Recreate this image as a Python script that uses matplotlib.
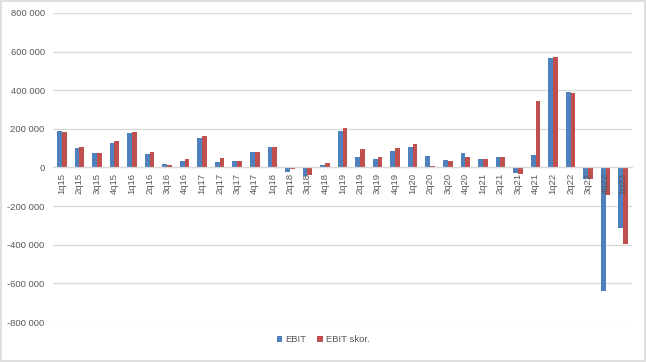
import matplotlib
matplotlib.use("Agg")
import matplotlib.pyplot as plt
import matplotlib.ticker as mticker
from matplotlib.patches import Rectangle
import numpy as np

# ── Data ──────────────────────────────────────────────────────────────────
quarters = [
    "1q15", "2q15", "3q15", "4q15", "1q16", "2q16", "3q16", "4q16",
    "1q17", "2q17", "3q17", "4q17", "1q18", "2q18", "3q18", "4q18",
    "1q19", "2q19", "3q19", "4q19", "1q20", "2q20", "3q20", "4q20",
    "1q21", "2q21", "3q21", "4q21", "1q22", "2q22", "3q22", "4q22",
    "1q23",
]
ebit = [
    191000, 102000, 75000, 128000, 181000, 70000, 18000, 33000,
    154000, 28000, 33000, 81000, 107000, -25000, -45000, 12000,
    191000, 54000, 44000, 86000, 107000, 60000, 39000, 75000,
    44000, 54000, -30000, 65000, 565000, 393000, -62000, -642000,
    -315000,
]
ebit_skor = [
    186000, 107000, 75000, 139000, 186000, 81000, 12000, 44000,
    165000, 49000, 33000, 81000, 107000, -9000, -38000, 23000,
    202000, 96000, 54000, 102000, 123000, 7000, 33000, 54000,
    44000, 54000, -32000, 344000, 571000, 388000, -60000, -140000,
    -398000,
]
series_names = ["EBIT", "EBIT skor."]
y_ticks = np.arange(-800000, 800001, 200000)

# ── Style ─────────────────────────────────────────────────────────────────
plt.rcParams["font.family"] = ["Liberation Sans", "DejaVu Sans"]
TXT = "#595959"
GRID = "#D9D9D9"
colors = ["#4F81BD", "#C0504D"]

fig = plt.figure(figsize=(6.46, 3.62), dpi=100)
ax = fig.add_axes([53 / 646, 1 - 322 / 362, (632 - 53) / 646, (322 - 13) / 362])

# gridlines behind bars, tick labels on top (like Excel)
for yv in y_ticks:
    ax.axhline(yv, color=GRID, linewidth=0.9, zorder=0.5)

x = np.arange(len(quarters))
w = 0.27
ax.bar(x - w / 2, ebit, width=w, color=colors[0], label=series_names[0], zorder=2)
ax.bar(x + w / 2, ebit_skor, width=w, color=colors[1], label=series_names[1], zorder=2)

ax.set_xlim(-0.5, len(quarters) - 0.5)
ax.set_ylim(-800000, 800000)
ax.set_yticks(y_ticks)
ax.yaxis.set_major_formatter(
    mticker.FuncFormatter(lambda v, p: f"{int(v):,}".replace(",", " ")))
ax.set_axisbelow(False)

for s in ["top", "right", "left"]:
    ax.spines[s].set_visible(False)
ax.spines["bottom"].set_position(("data", 0))
ax.spines["bottom"].set_color(GRID)
ax.spines["bottom"].set_linewidth(0.9)

ax.set_xticks(x)
ax.set_xticklabels(quarters, rotation=90, fontsize=6.8, color=TXT)
ax.tick_params(axis="x", length=0, pad=4)
ax.tick_params(axis="y", length=0, pad=6, labelsize=6.8, labelcolor=TXT)

fig.legend(loc="lower center", bbox_to_anchor=(0.5, 0.025), ncol=2,
           frameon=False, fontsize=6.8, labelcolor=TXT,
           handlelength=0.6, handleheight=0.6, handletextpad=0.3,
           columnspacing=1.2)

fig.patches.append(Rectangle((0.001, 0.002), 0.997, 0.995, transform=fig.transFigure,
                             fill=False, edgecolor=GRID, linewidth=1.2))

fig.savefig("out.png", dpi=100)
